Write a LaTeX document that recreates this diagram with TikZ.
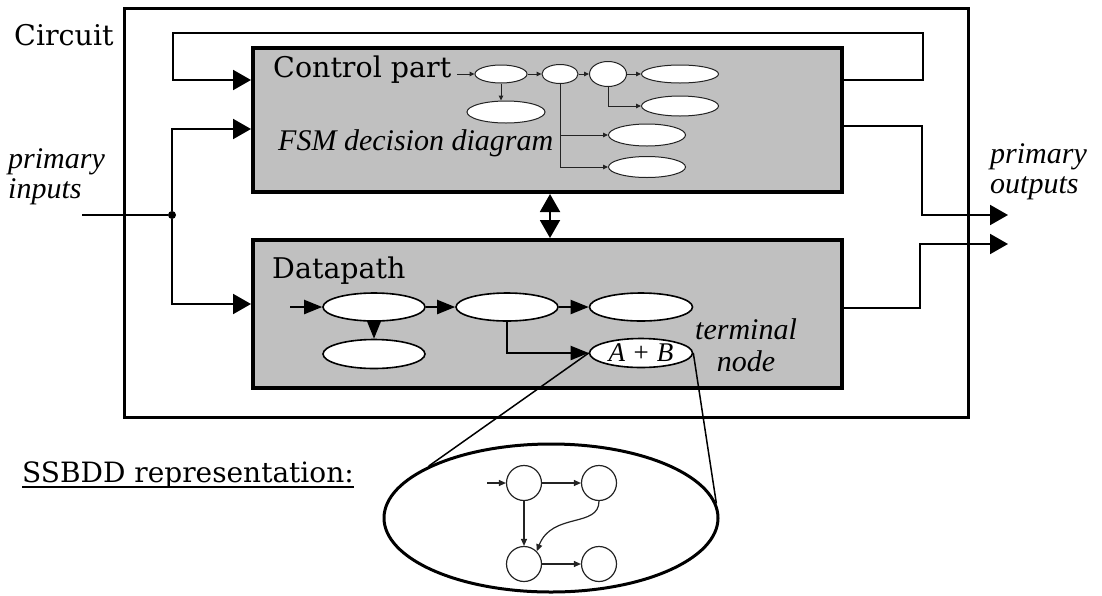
\documentclass[tikz,border=0pt]{standalone}
\usepackage{fontspec}
\setmainfont{DejaVu Serif}
\newfontfamily\itfont{Liberation Serif}
\usetikzlibrary{shapes.geometric,arrows.meta}
\definecolor{boxgray}{RGB}{192,192,192}
\definecolor{ink}{RGB}{35,35,35}
\tikzset{
  BigTip/.tip={Triangle[length=18pt,width=20pt]},
  DpTip/.tip={Triangle[length=18pt,width=14pt]},
  SmTip/.tip={Triangle[length=5pt,width=4.5pt]},
  SsTip/.tip={Triangle[length=7pt,width=6pt]},
  rmtext/.style={font=\fontsize{28.5}{32}\selectfont, inner sep=0pt},
  ittext/.style={font=\itfont\itshape\fontsize{30}{30}\selectfont, inner sep=0pt},
  outerbox/.style={draw, line width=3pt, inner sep=0pt},
  partbox/.style={draw, line width=4pt, fill=boxgray, inner sep=0pt},
  wire/.style={line width=2pt},
  cwire/.style={line width=1pt, draw=ink},
  cnode/.style={ellipse, draw=ink, line width=1pt, fill=white, inner sep=0pt},
  dnode/.style={ellipse, draw, line width=1.6pt, fill=white, inner sep=0pt},
  snode/.style={circle, draw=ink, line width=1.2pt, minimum size=35pt, inner sep=0pt},
  junction/.style={circle, fill, minimum size=8pt, inner sep=0pt},
}
\begin{document}
\begin{tikzpicture}[x=1pt,y=-1pt]
\useasboundingbox (0,0) rectangle (1102,595);

% circuit frame and its two parts
\node[outerbox, minimum width=844pt, minimum height=409pt] (circuit) at (546,212.5) {};
\node[partbox, minimum width=589pt, minimum height=144pt] (ctrl) at (547.5,120) {};
\node[partbox, minimum width=589pt, minimum height=148pt] (dp) at (547.5,314) {};

% labels
\node[rmtext, anchor=base west] (circT) at (14,45) {Circuit};
\node[rmtext, anchor=base west] (ctrlT) at (273,77) {Control part};
\node[ittext, anchor=base west] (fsmT) at (278,150) {FSM decision diagram};
\node[rmtext, anchor=base west] (dpT) at (272,278) {Datapath};
\node[ittext, align=left, anchor=north west] (inT) at (8,148) {primary\\inputs};
\node[ittext, align=left, anchor=north west] (outT) at (990,143) {primary\\outputs};
\node[ittext, align=center, anchor=north] (termT) at (746,318) {terminal\\[2pt]node};
\node[rmtext, font=\fontsize{28}{32}\selectfont, anchor=base west] (ssbT) at (22,482) {SSBDD representation:};
\draw[line width=2pt] ([yshift=-5pt]ssbT.base west) -- ([yshift=-5pt]ssbT.base east);

% feedback from the control part back to its input
\draw[wire, -BigTip] (ctrl.east |- 0,80) -- (923,80) -- (923,33) -- (173,33) -- (173,80) -- (ctrl.west |- 0,80);

% primary inputs
\coordinate (inL) at (82,215);
\node[junction] (junc) at (172,215) {};
\draw[wire] (inL) -- (junc);
\draw[wire, -BigTip] (junc) -- (junc |- 0,129) -- (ctrl.west |- 0,129);
\draw[wire, -BigTip] (junc) -- (junc |- 0,304) -- (dp.west |- 0,304);

% primary outputs
\coordinate (outA) at (1008,215);
\coordinate (outB) at (1008,244);
\draw[wire, -BigTip] (ctrl.east |- 0,126) -- (922,126) -- (922,215) -- (outA);
\draw[wire, -BigTip] (dp.east |- 0,308) -- (920,308) -- (920,244) -- (outB);

% control <-> datapath
\draw[wire, BigTip-BigTip] (ctrl.south -| 550,0) -- (dp.north -| 550,0);

% FSM decision diagram
\node[cnode, minimum width=52pt, minimum height=18pt] (c1) at (501,74) {};
\node[cnode, minimum width=36pt, minimum height=19pt] (c2) at (560,74) {};
\node[cnode, minimum width=37pt, minimum height=25pt] (c3) at (608,74) {};
\node[cnode, minimum width=77pt, minimum height=18pt] (c4) at (680,74) {};
\node[cnode, minimum width=77pt, minimum height=20pt] (c5) at (680,106) {};
\node[cnode, minimum width=77pt, minimum height=22pt] (c6) at (647,135) {};
\node[cnode, minimum width=77pt, minimum height=21pt] (c7) at (647,167) {};
\node[cnode, minimum width=78pt, minimum height=22pt] (c8) at (506,112) {};
\coordinate (cIn) at (457,74);
\draw[cwire, -SmTip] (cIn) -- (c1);
\draw[cwire, -SmTip] (c1) -- (c2);
\draw[cwire, -SmTip] (c2) -- (c3);
\draw[cwire, -SmTip] (c3) -- (c4);
\draw[cwire, -SmTip] (c1.south) -- (c1.south |- c8.north);
\draw[cwire, -SmTip] (c3.south) -- (c3.south |- c5.west) -- (c5.west);
\draw[cwire, -SmTip] (c2.south) -- (c2.south |- c7.west) -- (c7.west);
\draw[cwire, -SmTip] (c2.south |- c6.west) -- (c6.west);

% datapath decision diagram
\node[dnode, minimum width=102pt, minimum height=28pt] (d1) at (374,307) {};
\node[dnode, minimum width=102pt, minimum height=28pt] (d2) at (507,307) {};
\node[dnode, minimum width=103pt, minimum height=28pt] (d3) at (641,307) {};
\node[dnode, minimum width=102pt, minimum height=29pt] (d4) at (374,354) {};
\node[dnode, minimum width=103pt, minimum height=29pt, font=\itfont\itshape\fontsize{27}{27}\selectfont] (d5) at (641,353) {A + B};
\coordinate (dIn) at (290,307);
\draw[wire, -DpTip] (dIn) -- (d1);
\draw[wire, -DpTip] (d1) -- (d2);
\draw[wire, -DpTip] (d2) -- (d3);
\draw[wire, -DpTip] (d1) -- (d4);
\draw[wire, -DpTip] (d2.south) -- (d2.south |- d5.west) -- (d5.west);

% zoom onto the terminal node: SSBDD
\node[ellipse, draw, line width=3pt, minimum width=334pt, minimum height=148pt, inner sep=0pt] (zoom) at (551,518) {};
\draw[line width=1.5pt] (d5.west) -- (zoom.157.6);
\draw[line width=1.5pt] (d5.east) -- (zoom.5.2);

\node[snode] (s1) at (524,483) {};
\node[snode] (s2) at (599,483) {};
\node[snode] (s3) at (524,564) {};
\node[snode] (s4) at (599,564) {};
\coordinate (sIn) at (487,483);
\draw[cwire, line width=1.2pt, -SsTip] (sIn) -- (s1);
\draw[cwire, line width=1.2pt, -SsTip] (s1) -- (s2);
\draw[cwire, line width=1.2pt, -SsTip] (s1) -- (s3);
\draw[cwire, line width=1.2pt, -SsTip] (s3) -- (s4);
\draw[cwire, line width=1.2pt, -SsTip] (s2.south) .. controls (599,528) and (552,512) .. (s3.north east);
\end{tikzpicture}
\end{document}
